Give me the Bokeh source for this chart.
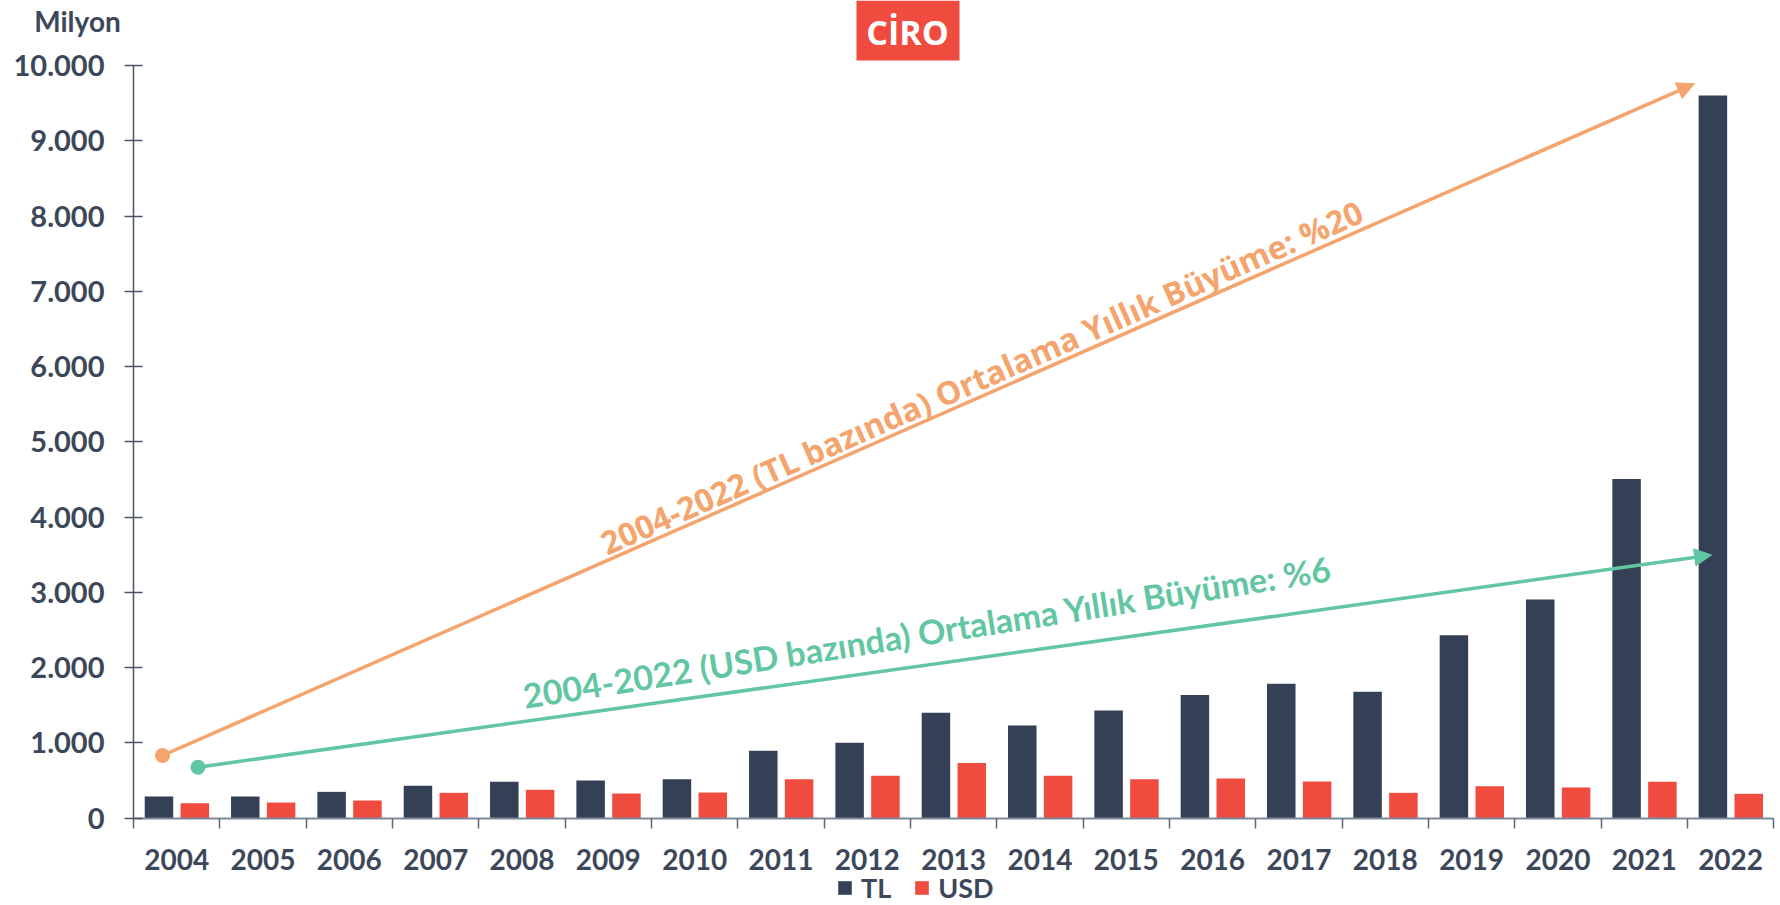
import numpy as np
from bokeh.plotting import figure
from bokeh.models import (Range1d, FixedTicker, Arrow, NormalHead, Label, Legend, LegendItem,
                          BoxAnnotation)
from bokeh.embed import file_html
from bokeh.resources import INLINE

# ---------------- data ----------------
years = ["2004", "2005", "2006", "2007", "2008", "2009", "2010", "2011", "2012", "2013",
         "2014", "2015", "2016", "2017", "2018", "2019", "2020", "2021", "2022"]
tl_values = [288, 288, 350, 432, 483, 501, 519, 896, 1002, 1401,
             1233, 1432, 1636, 1787, 1681, 2430, 2906, 4505, 9600]
usd_values = [200, 208, 235, 337, 377, 328, 341, 519, 563, 732,
              563, 519, 528, 488, 337, 426, 408, 483, 324]
y_ticks = [0, 1000, 2000, 3000, 4000, 5000, 6000, 7000, 8000, 9000, 10000]
y_tick_labels = ["0", "1.000", "2.000", "3.000", "4.000", "5.000", "6.000",
                 "7.000", "8.000", "9.000", "10.000"]
series_names = ["TL", "USD"]
title_text = "CİRO"
unit_text = "Milyon"
tl_growth_text = "2004-2022  (TL bazında) Ortalama Yıllık Büyüme: %20"
usd_growth_text = "2004-2022 (USD bazında) Ortalama Yıllık Büyüme: %6"

# ---------------- styles / layout ----------------
NAVY = "#344055"
RED = "#ef4b3f"
ORANGE = "#f4a46c"
GREEN = "#62c6a2"
TXT = "#3c4859"
AXF = "Lato"

W, H = 1780, 905
X0_PX, PX_PER_CAT = 133.0, 86.33      # pixel of category-axis origin, pixels per category
Y0_PX, PX_PER_UNIT = 817.7, 0.07527   # pixel (from top) of value 0, pixels per unit


def px2x(px):
    return (px - X0_PX) / PX_PER_CAT


def px2y(py):
    return (Y0_PX - py) / PX_PER_UNIT


n = len(years)
idx = np.arange(n)
centers = idx + 0.5

x_range = Range1d(px2x(0), px2x(W))
y_range = Range1d(px2y(H), px2y(0))

p = figure(width=W, height=H, output_backend="svg", toolbar_location=None,
           x_range=x_range, y_range=y_range, min_border=0,
           min_border_left=0, min_border_right=0, min_border_top=0, min_border_bottom=0)
p.outline_line_color = None
p.xgrid.visible = False
p.ygrid.visible = False
p.background_fill_color = "white"

r_tl = p.vbar(x=centers - 0.205, top=tl_values, width=0.33, fill_color=NAVY, line_color=None)
r_usd = p.vbar(x=centers + 0.21, top=usd_values, width=0.33, fill_color=RED, line_color=None)

# x axis
xa = p.xaxis[0]
xa.fixed_location = 0
xa.bounds = (0, n)
xa.ticker = FixedTicker(ticks=list(centers), minor_ticks=list(range(n + 1)))
xa.major_label_overrides = {float(c): y for c, y in zip(centers, years)}
xa.major_tick_line_color = None
xa.major_tick_out = 0
xa.major_tick_in = 0
xa.minor_tick_line_color = "#5a6678"
xa.minor_tick_line_width = 1.5
xa.minor_tick_out = 10
xa.minor_tick_in = 0
xa.axis_line_color = "#7d8899"
xa.axis_line_width = 2
xa.major_label_standoff = 21
xa.major_label_text_font = AXF
xa.major_label_text_font_style = "bold"
xa.major_label_text_font_size = "28px"
xa.major_label_text_color = TXT

# y axis
ya = p.yaxis[0]
ya.fixed_location = 0
ya.bounds = (0, 10000)
ya.ticker = FixedTicker(ticks=y_ticks, minor_ticks=[])
ya.major_label_overrides = {t: l for t, l in zip(y_ticks, y_tick_labels)}
ya.major_tick_in = 9
ya.major_tick_out = 9
ya.major_tick_line_color = "#4a5668"
ya.major_tick_line_width = 1.5
ya.axis_line_color = "#4a5668"
ya.axis_line_width = 1.5
ya.minor_tick_line_color = None
ya.major_label_standoff = 20
ya.major_label_text_font = AXF
ya.major_label_text_font_style = "bold"
ya.major_label_text_font_size = "29px"
ya.major_label_text_color = TXT

# growth arrows
p.scatter([0.336], [833], size=15, fill_color=ORANGE, line_color=None)
p.scatter([0.747], [677], size=15, fill_color=GREEN, line_color=None)
p.add_layout(Arrow(x_start=0.336, y_start=833, x_end=18.08, y_end=9757,
                   line_color=ORANGE, line_width=3.5,
                   end=NormalHead(size=17, fill_color=ORANGE, line_color=ORANGE)))
p.add_layout(Arrow(x_start=0.747, y_start=677, x_end=18.28, y_end=3497,
                   line_color=GREEN, line_width=3.5,
                   end=NormalHead(size=17, fill_color=GREEN, line_color=GREEN)))

p.add_layout(Label(x=5.428, y=3640, text=tl_growth_text, angle=23.8, angle_units="deg",
                   text_font="Open Sans", text_font_style="bold", text_font_size="32px",
                   text_color=ORANGE, text_align="left", text_baseline="alphabetic"))
p.add_layout(Label(x=4.514, y=1630, text=usd_growth_text, angle=9.0, angle_units="deg",
                   text_font=AXF, text_font_style="bold", text_font_size="34px",
                   text_color=GREEN, text_align="left", text_baseline="alphabetic"))

# title box and unit label
p.add_layout(BoxAnnotation(left=px2x(856), right=px2x(959), top=px2y(0), bottom=px2y(60),
                           fill_color=RED, fill_alpha=1.0, line_color=None))
p.add_layout(Label(x=px2x(907), y=px2y(31), text=title_text,
                   text_font="Open Sans", text_font_style="bold", text_font_size="34px",
                   text_color="white", text_align="center", text_baseline="alphabetic"))
p.add_layout(Label(x=px2x(77), y=px2y(20), text=unit_text,
                   text_font=AXF, text_font_style="bold", text_font_size="28px",
                   text_color=TXT, text_align="center", text_baseline="alphabetic"))

legend = Legend(items=[LegendItem(label=series_names[0], renderers=[r_tl]),
                       LegendItem(label=series_names[1], renderers=[r_usd])],
                location=(836, 1), orientation="horizontal",
                padding=0, margin=0, spacing=22, label_standoff=8,
                glyph_width=17, glyph_height=17, label_height=24,
                label_text_font=AXF, label_text_font_style="bold", label_text_font_size="27px",
                label_text_color=TXT, border_line_color=None, background_fill_alpha=0)
p.add_layout(legend)

open("out.html", "w").write(file_html(p, INLINE))
